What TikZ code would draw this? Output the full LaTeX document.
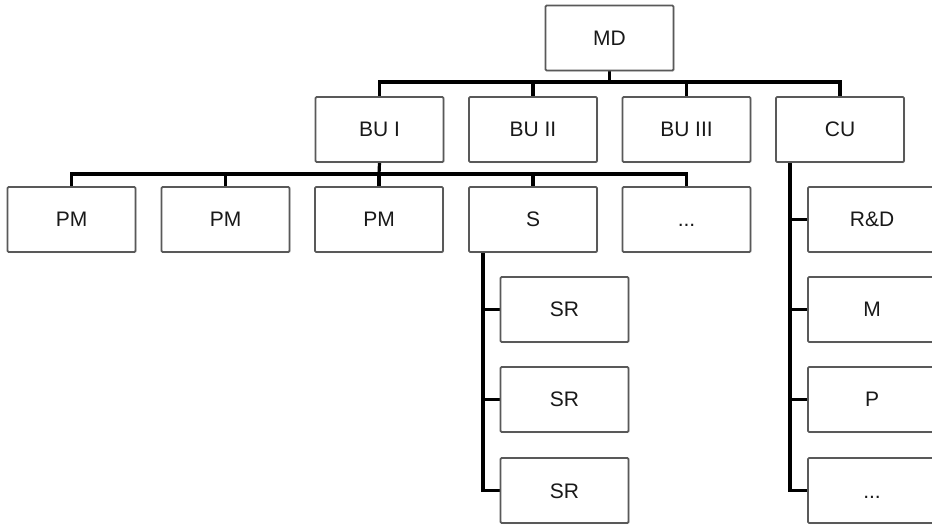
\documentclass[tikz,border=0pt]{standalone}
\usepackage{fontspec}
\setmainfont{Liberation Sans}
\usetikzlibrary{shadows,backgrounds}
\begin{document}
\begin{tikzpicture}[x=1pt,y=-1pt,
  unit/.style={draw=black!65, line width=1.8pt, fill=white, rounded corners=1.2pt,
    minimum width=128pt, minimum height=65pt, inner sep=0pt,
    text height=15pt, text depth=0pt,
    text=black!90, font=\fontsize{21}{24}\selectfont,
    drop shadow={opacity=0.22, shadow xshift=1.2pt, shadow yshift=-1.2pt}},
  conn/.style={draw=black, line width=3.2pt, line cap=rect}]
\useasboundingbox (0,0) rectangle (932,526);

% top management
\node[unit] (MD) at (609.5,38) {MD};

% business units and central units
\node[unit] (BU1) at (379.5,129.5) {BU I};
\node[unit] (BU2) at (533,129.5) {BU II};
\node[unit] (BU3) at (686.5,129.5) {BU III};
\node[unit] (CU)  at (840,129.5) {CU};

% departments of BU I
\node[unit] (PM1) at (71.5,219.5) {PM};
\node[unit] (PM2) at (225.5,219.5) {PM};
\node[unit] (PM3) at (379,219.5) {PM};
\node[unit] (S)   at (533,219.5) {S};
\node[unit] (BUx) at (686.5,219.5) {...};

% sales regions
\node[unit] (SR1) at (564.5,309.5) {SR};
\node[unit] (SR2) at (564.5,399.5) {SR};
\node[unit] (SR3) at (564.5,490.5) {SR};

% central functions
\node[unit] (RD)  at (872,219.5) {R\&D};
\node[unit] (M)   at (872,309.5) {M};
\node[unit] (P)   at (872,399.5) {P};
\node[unit] (CUx) at (872,490.5) {...};

% bus lines and spines
\coordinate (busA) at (609.5,82);
\coordinate (busB) at (379,174);
\coordinate (spineS) at (483,252);
\coordinate (spineC) at (790,162);

\begin{scope}[on background layer]
\draw[conn] (MD.south) -- (busA);
\draw[conn] (BU1.north) |- (busA) -| (CU.north);
\draw[conn] (BU2.north) -- (BU2.north |- busA);
\draw[conn] (BU3.north) -- (BU3.north |- busA);

\draw[conn] (BU1.south) -- (busB);
\draw[conn] (PM1.north) |- (busB) -| (BUx.north);
\draw[conn] (PM2.north) -- (PM2.north |- busB);
\draw[conn] (PM3.north) -- (PM3.north |- busB);
\draw[conn] (S.north) -- (S.north |- busB);

\draw[conn] (spineS) |- (SR3.west);
\draw[conn] (SR1.west) -- (SR1.west -| spineS);
\draw[conn] (SR2.west) -- (SR2.west -| spineS);

\draw[conn] (spineC) |- (CUx.west);
\draw[conn] (RD.west) -- (RD.west -| spineC);
\draw[conn] (M.west) -- (M.west -| spineC);
\draw[conn] (P.west) -- (P.west -| spineC);
\end{scope}
\end{tikzpicture}
\end{document}
